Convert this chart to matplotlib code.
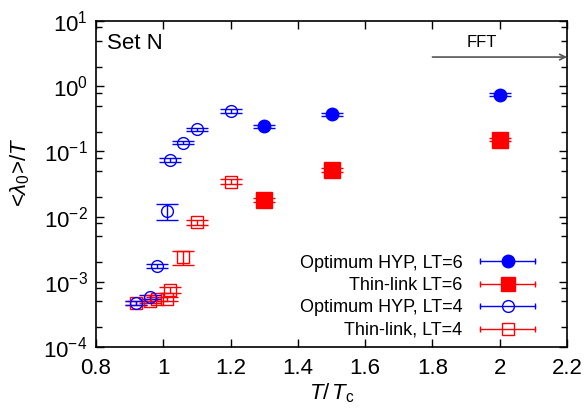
import matplotlib
matplotlib.use("Agg")
import matplotlib.pyplot as plt
from matplotlib.lines import Line2D
from matplotlib.legend_handler import HandlerLine2D, HandlerTuple
from matplotlib.ticker import LogLocator, FixedLocator

plt.rcParams['font.family'] = ['Liberation Sans', 'DejaVu Sans']
plt.rcParams['mathtext.fontset'] = 'custom'
plt.rcParams['mathtext.rm'] = 'Liberation Sans'
plt.rcParams['mathtext.it'] = 'Liberation Sans:italic'

# Optimum HYP, LT=6
hyp6_x = [1.3, 1.5, 2.0]
hyp6_y = [0.243, 0.371, 0.741]
hyp6_err = [0.012, 0.018, 0.035]

# Thin-link LT=6
thin6_x = [1.3, 1.5, 2.0]
thin6_y = [0.0180, 0.0519, 0.150]
thin6_err = [0.0010, 0.0030, 0.0080]

# Optimum HYP, LT=4
hyp4_x = [0.92, 0.96, 0.98, 1.01, 1.02, 1.06, 1.10, 1.20]
hyp4_y = [0.00047, 0.00059, 0.00175, 0.0123, 0.073, 0.136, 0.218, 0.417]
hyp4_err = [0.00003, 0.00004, 0.00015, 0.0035, 0.005, 0.008, 0.012, 0.025]

# Thin-link, LT=4
thin4_x = [0.92, 0.96, 0.98, 1.01, 1.02, 1.06, 1.10, 1.20]
thin4_y = [0.00047, 0.00051, 0.00054, 0.00054, 0.00075, 0.0024, 0.00817, 0.0343]
thin4_err = [0.00003, 0.00004, 0.00004, 0.00004, 0.00008, 0.00058, 0.0008, 0.003]

BLUE = '#0000ff'
RED = '#ff0000'

fig = plt.figure(figsize=(5.86, 4.08), dpi=100)
ax = fig.add_axes([0.1638, 0.1495, 0.8038, 0.799])

common = dict(ls='none', elinewidth=1.0, capsize=8, capthick=1.0)
ax.errorbar(thin4_x, thin4_y, yerr=thin4_err, color=RED, marker='s', ms=9,
            mfc='none', mec=RED, mew=1.0, **common)
ax.errorbar(hyp4_x, hyp4_y, yerr=hyp4_err, color=BLUE, marker='o', ms=8.5,
            mfc='none', mec=BLUE, mew=1.0, **common)
ax.errorbar(thin6_x, thin6_y, yerr=thin6_err, color=RED, marker='s', ms=11,
            mfc=RED, mec=RED, **common)
ax.errorbar(hyp6_x, hyp6_y, yerr=hyp6_err, color=BLUE, marker='o', ms=9,
            mfc=BLUE, mec=BLUE, **common)

ax.set_yscale('log')
ax.set_xlim(0.8, 2.2)
ax.set_ylim(1e-4, 10)
ax.xaxis.set_major_locator(FixedLocator([0.8, 1.0, 1.2, 1.4, 1.6, 1.8, 2.0, 2.2]))
ax.set_xticklabels(['0.8', '1', '1.2', '1.4', '1.6', '1.8', '2', '2.2'])
ax.yaxis.set_major_locator(LogLocator(base=10, numticks=10))
ax.yaxis.set_minor_locator(LogLocator(base=10, subs=[2, 5, 8], numticks=10))
ax.yaxis.set_minor_formatter(plt.NullFormatter())
ax.tick_params(which='both', direction='in', top=True, right=True, labelsize=16)
ax.tick_params(which='major', length=6, width=1)
ax.tick_params(which='minor', length=4, width=1)
ax.tick_params(axis='x', pad=8)
ax.tick_params(axis='y', pad=6)
for s in ax.spines.values():
    s.set_linewidth(1.2)

ax.set_xlabel(r'$T/\,T_{\mathrm{c}}$', fontsize=16, labelpad=2)
ax.set_ylabel(r'<$\lambda_0$>/$T$', fontsize=16)
ax.yaxis.set_label_coords(-0.136, 0.537)

ax.text(0.023, 0.93, 'Set N', transform=ax.transAxes, fontsize=16,
        ha='left', va='center')
ax.annotate('', xy=(2.2, 2.8), xytext=(1.8, 2.8),
            arrowprops=dict(arrowstyle='->', color='#555555', lw=1.2,
                            shrinkA=0, shrinkB=0))
ax.text(1.946, 4.6, 'FFT', fontsize=12, ha='center', va='center')

# legend: horizontal bar with end ticks + marker
def entry(color, marker, filled, ms):
    bar = Line2D([], [], color=color, lw=1.0, marker='|', ms=5, mew=1.0)
    pt = Line2D([], [], ls='none', marker=marker, ms=ms, color=color,
                mfc=color if filled else 'none', mec=color, mew=1.0)
    return (bar, pt), bar

handles = []
hmap = {}
for color, marker, filled, ms in [(BLUE, 'o', True, 9), (RED, 's', True, 10),
                                  (BLUE, 'o', False, 8.5), (RED, 's', False, 9)]:
    h, bar = entry(color, marker, filled, ms)
    handles.append(h)
    hmap[bar] = HandlerLine2D(numpoints=2)
hmap[tuple] = HandlerTuple(ndivide=1, pad=0)
labels = ['Optimum HYP, LT=6', 'Thin-link LT=6', 'Optimum HYP, LT=4', 'Thin-link, LT=4']
ax.legend(handles, labels, handler_map=hmap, loc='lower right',
          bbox_to_anchor=(0.9427, 0.025), frameon=False, fontsize=13,
          markerfirst=False, handlelength=3.6, handletextpad=0.7,
          labelspacing=0.3, borderpad=0, borderaxespad=0)

fig.savefig('out.png', dpi=100)
